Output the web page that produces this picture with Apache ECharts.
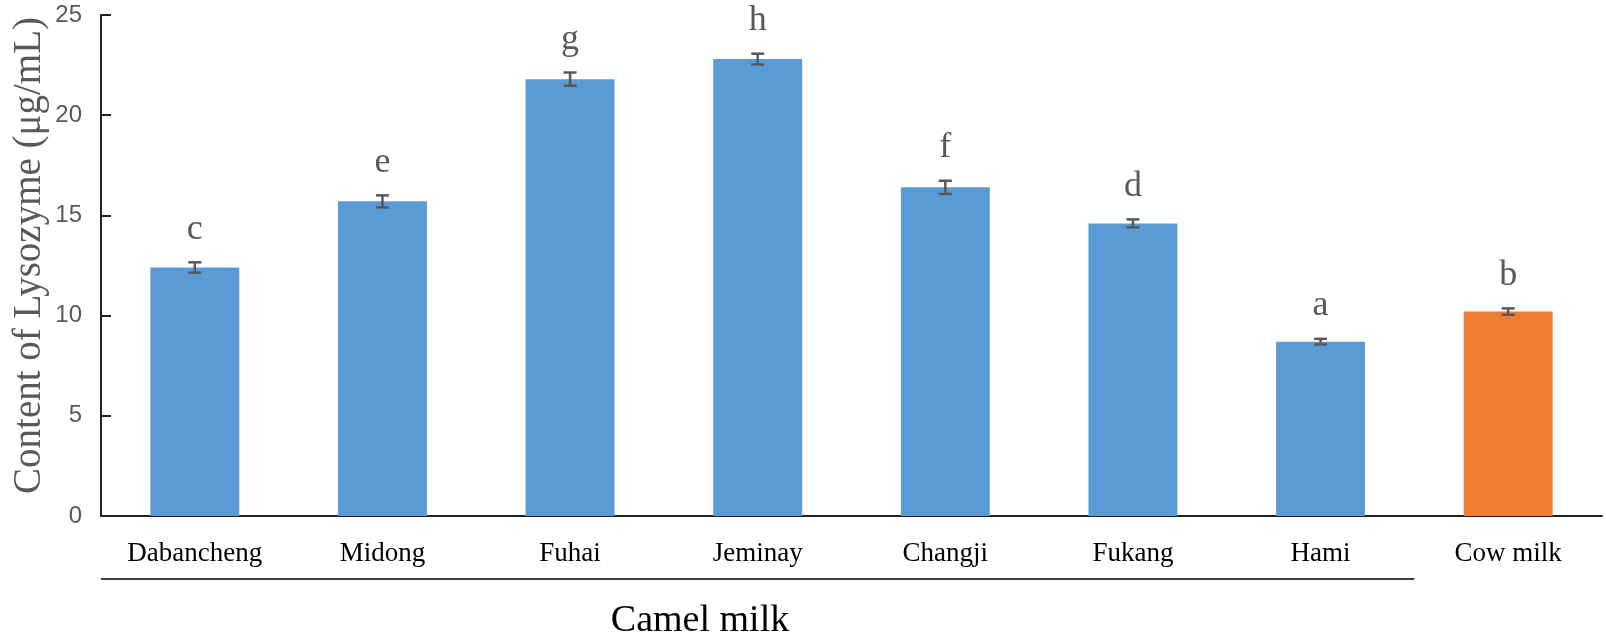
<!DOCTYPE html>
<html>
<head>
<meta charset="utf-8">
<script src="https://cdn.jsdelivr.net/npm/echarts@6/dist/echarts.min.js"></script>
<style>
html,body{margin:0;padding:0;background:#fff;}
#main{width:1606px;height:637px;}
</style>
</head>
<body>
<div id="main"></div>
<script>
const categories = ['Dabancheng', 'Midong', 'Fuhai', 'Jeminay', 'Changji', 'Fukang', 'Hami', 'Cow milk'];
const values = [12.4, 15.7, 21.8, 22.8, 16.4, 14.6, 8.7, 10.2];
const errors = [0.26, 0.3, 0.33, 0.27, 0.33, 0.2, 0.14, 0.16];
const letters = ['c', 'e', 'g', 'h', 'f', 'd', 'a', 'b'];
const groupName = 'Camel milk';
const camelCount = 7; // first 7 categories are camel milk
const yTicks = [0, 5, 10, 15, 20, 25];

const BLUE = '#5B9BD5', ORANGE = '#ED7D31', GRAY = '#595959';
const serif = '"Liberation Serif", "Times New Roman", serif';

const chart = echarts.init(document.getElementById('main'), null, {renderer: 'canvas'});

const option = {
  animation: false,
  backgroundColor: '#fff',
  grid: {left: 101, right: 4, top: 15, bottom: 121, containLabel: false, outerBoundsMode: 'none'},
  xAxis: {
    type: 'category',
    data: categories,
    axisLine: {show: true, lineStyle: {color: '#222', width: 2}},
    axisTick: {show: false},
    axisLabel: {color: '#000', fontFamily: serif, fontSize: 27, margin: 24}
  },
  yAxis: {
    type: 'value',
    min: yTicks[0], max: yTicks[yTicks.length - 1], interval: 5,
    name: 'Content of Lysozyme (μg/mL)',
    nameLocation: 'middle',
    nameRotate: 90,
    nameGap: 52,
    nameMoveOverlap: false,
    nameTextStyle: {color: GRAY, fontFamily: serif, fontSize: 39, padding: [0, 0, 0, 20]},
    axisLine: {show: true, lineStyle: {color: '#222', width: 2}},
    axisTick: {show: true, inside: true, length: 10, lineStyle: {color: '#222', width: 2}},
    axisLabel: {color: GRAY, fontFamily: '"Liberation Sans", Arial, sans-serif', fontSize: 24, margin: 19},
    splitLine: {show: false}
  },
  series: [
    {
      type: 'bar',
      data: values,
      barWidth: '47.4%',
      itemStyle: {
        color: p => p.dataIndex < camelCount ? BLUE : ORANGE
      }
    },
    {
      type: 'custom',
      data: values.map((v, i) => [i, v, errors[i]]),
      z: 10,
      renderItem: function (params, api) {
        const i = api.value(0), v = api.value(1), e = api.value(2);
        const hi = api.coord([i, v + e]);
        const lo = api.coord([i, v - e]);
        const cap = 6.5;
        const ls = {stroke: GRAY, lineWidth: 2.5};
        return {
          type: 'group',
          children: [
            {type: 'line', shape: {x1: hi[0], y1: hi[1], x2: lo[0], y2: lo[1]}, style: ls},
            {type: 'line', shape: {x1: hi[0] - cap, y1: hi[1], x2: hi[0] + cap, y2: hi[1]}, style: ls},
            {type: 'line', shape: {x1: lo[0] - cap, y1: lo[1], x2: lo[0] + cap, y2: lo[1]}, style: ls},
            {type: 'text', style: {
              text: letters[params.dataIndex], x: hi[0], y: hi[1] - 15,
              textAlign: 'center', textVerticalAlign: 'bottom',
              fill: GRAY, font: '36px ' + serif
            }}
          ]
        };
      }
    }
  ]
};
chart.setOption(option);

// Group bracket beneath camel milk categories
const c0 = chart.convertToPixel({xAxisIndex: 0}, 0);
const c1 = chart.convertToPixel({xAxisIndex: 0}, 1);
const band = c1 - c0;
const left = c0 - band / 2;
const right = chart.convertToPixel({xAxisIndex: 0}, camelCount - 1) + band / 2;
const axisY = chart.convertToPixel({yAxisIndex: 0}, 0);
chart.setOption({
  graphic: [
    {type: 'line', shape: {x1: left, y1: axisY + 63, x2: right, y2: axisY + 63},
     style: {stroke: '#404040', lineWidth: 2}},
    {type: 'text', x: 700, y: axisY + 105,
     style: {text: groupName, textAlign: 'center', textVerticalAlign: 'middle',
             fill: '#000', font: '38px ' + serif}}
  ]
});
</script>
</body>
</html>
